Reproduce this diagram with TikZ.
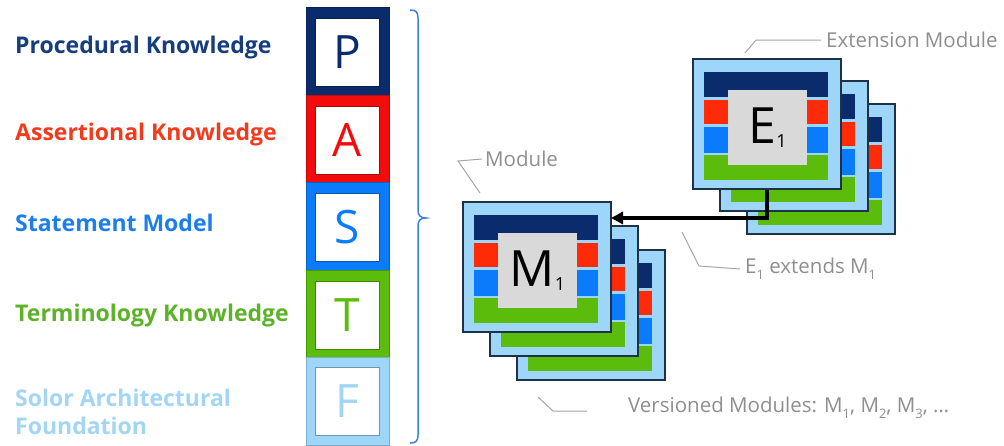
\documentclass[tikz,border=0pt]{standalone}
\usepackage{fontspec}
\setmainfont{Open Sans}
\usetikzlibrary{arrows.meta}
\definecolor{navyc}{HTML}{0B2C6C}
\definecolor{navyt}{HTML}{163D7E}
\definecolor{redc}{HTML}{FF2A08}
\definecolor{redb}{HTML}{F20C0C}
\definecolor{redt}{HTML}{F23A1C}
\definecolor{bluec}{HTML}{0A7BFA}
\definecolor{bluet}{HTML}{1B7EEB}
\definecolor{greenc}{HTML}{5CBC0C}
\definecolor{greent}{HTML}{5DB22A}
\definecolor{lightc}{HTML}{9DD6F8}
\definecolor{lightt}{HTML}{A3D5F5}
\definecolor{cardbd}{HTML}{1E3246}
\definecolor{grayc}{HTML}{D9D9D9}
\definecolor{calloutc}{HTML}{8E8E8E}
\definecolor{bracec}{HTML}{3C82DC}
\newcommand\lowsub[1]{\raisebox{-0.3em}{\fontsize{13}{13}\selectfont #1}}
\newcommand\bigsub[1]{\raisebox{-4pt}{\fontsize{18}{18}\selectfont #1}}
\newcommand\mycard[4]{%
  \begin{scope}[shift={(#2,#3)}]
    \node[card] (#1) at (74,65) {};
    \fill[navyc] (11,13) rectangle (135,38);
    \fill[redc] (11,41) rectangle (135,65);
    \fill[bluec] (11,68) rectangle (135,94);
    \fill[greenc] (11,96) rectangle (135,121);
    \node[graysq] (#1t) at (74.5,68.5) {#4};
  \end{scope}}
\begin{document}
\begin{tikzpicture}[x=1pt,y=-1pt,
  lab/.style={anchor=west,inner sep=0pt,font=\fontsize{23}{28}\selectfont\bfseries,align=left},
  blk/.style={rectangle,minimum width=83pt,minimum height=87.5pt,inner sep=0pt,draw=#1!80!black,line width=0.6pt,fill=#1},
  inbox/.style={rectangle,minimum width=64pt,minimum height=68pt,inner sep=0pt,fill=white,draw=#1!70!black,line width=0.8pt,text=#1,font=\fontsize{46}{46}\selectfont},
  card/.style={rectangle,minimum width=148pt,minimum height=130pt,inner sep=0pt,fill=lightc,draw=cardbd,line width=1.3pt},
  graysq/.style={rectangle,minimum width=79pt,minimum height=75pt,inner sep=0pt,fill=grayc,text=black,font=\fontsize{50}{50}\selectfont},
  callout/.style={anchor=west,inner sep=0pt,text=calloutc,font=\fontsize{20.5}{20.5}\selectfont},
  cline/.style={draw=calloutc!80,line width=1pt},
  arr/.style={draw=black,line width=3.2pt,-{Triangle[length=12pt,width=12pt]}}]
\useasboundingbox (0,0) rectangle (1004,445);
% left labels
\node[lab,text=navyt] (lp) at (15,48) {Procedural Knowledge};
\node[lab,text=redt] (la) at (15,135) {Assertional Knowledge};
\node[lab,text=bluet] (ls) at (15,223) {Statement Model};
\node[lab,text=greent] (lt) at (15,316) {Terminology Knowledge};
\node[lab,text=lightt] (lf) at (15,412) {Solor Architectural\\Foundation};
% stack
\node[blk=navyc] (bp) at (347.5,51.5) {};
\node[inbox=navyc] (p) at (347.5,52.5) {P};
\node[blk=redb] (ba) at (347.5,139) {};
\node[inbox=redb] (a) at (347.5,140) {A};
\node[blk=bluec] (bs) at (347.5,226.5) {};
\node[inbox=bluec] (s) at (347.5,227.5) {S};
\node[blk=greenc] (bt) at (347.5,314) {};
\node[inbox=greenc] (t) at (347.5,315) {T};
\node[blk=lightc] (bf) at (347.5,401.5) {};
\node[inbox=lightc,text=lightt] (f) at (347.5,401.5) {F};
% brace
\coordinate (brtop) at (410,10);
\coordinate (brtip) at (426,218);
\coordinate (brbot) at (410,443);
\draw[bracec,line width=1.5pt] (brtop) .. controls (416,10) and (418,12) .. (418,18) -- (418,210)
  .. controls (418,215) and (420,218) .. (brtip) .. controls (420,218) and (418,221) .. (418,226)
  -- (418,435) .. controls (418,441) and (416,443) .. (brbot);
% module stacks
\mycard{m3}{517}{250}{}
\mycard{m2}{490}{226}{}
\mycard{m1}{463}{202}{M\bigsub{1}}
\mycard{e3}{747}{104}{}
\mycard{e2}{720}{81}{}
\mycard{e1}{693}{59}{E\bigsub{1}}
% extends arrow
\coordinate (m1hit) at (611,218);
\draw[arr] (e1.south) |- (m1hit);
% callouts
\node[callout] (cext) at (826,40) {Extension Module};
\coordinate (cext1) at (745,53);
\coordinate (cext2) at (756,40);
\draw[cline] (cext1) -- (cext2) -- ([xshift=-5pt]cext.west);
\node[callout] (cmod) at (485,159) {Module};
\coordinate (cmod1) at (480,193);
\coordinate (cmod2) at (458,161);
\draw[cline] (cmod1) -- (cmod2) -- ([xshift=-3pt]cmod.west);
\node[callout] (cextd) at (745,269) {E\lowsub{1} extends M\lowsub{1}};
\coordinate (cextd1) at (682,232);
\coordinate (cextd2) at (699,266);
\draw[cline] (cextd1) -- (cextd2) -- ([xshift=-5pt]cextd.west);
\node[callout] (cver) at (628,408) {Versioned Modules: M\lowsub{1}, M\lowsub{2}, M\lowsub{3}, \dots};
\coordinate (cver1) at (538,397);
\coordinate (cver2) at (553,411);
\coordinate (cver3) at (587,411);
\draw[cline] (cver1) -- (cver2) -- (cver3);
\end{tikzpicture}
\end{document}
